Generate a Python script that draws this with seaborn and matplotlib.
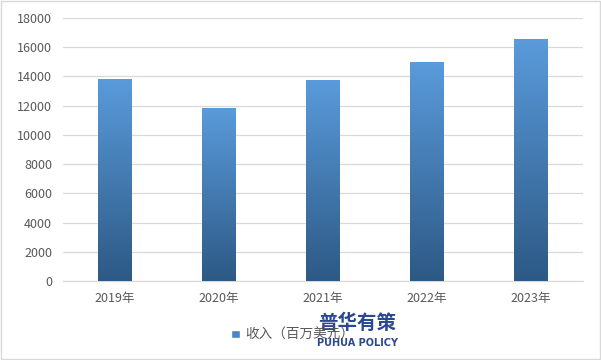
import matplotlib
matplotlib.use("Agg")
import matplotlib.pyplot as plt
import seaborn as sns
import numpy as np
import pandas as pd
from matplotlib.colors import LinearSegmentedColormap
from matplotlib.patches import Rectangle

years = ["2019年", "2020年", "2021年", "2022年", "2023年"]
revenue = [13850, 11850, 13780, 15000, 16580]
series_name = "收入（百万美元）"
yticks = [0, 2000, 4000, 6000, 8000, 10000, 12000, 14000, 16000, 18000]

sns.set_theme(style="white")
plt.rcParams["font.family"] = ["Noto Sans CJK SC", "DejaVu Sans"]

df = pd.DataFrame({"year": years, "value": revenue})

fig = plt.figure(figsize=(6.01, 3.6), dpi=100)
ax = fig.add_axes([0.105, 0.219, 0.865, 0.731])
sns.barplot(data=df, x="year", y="value", color="#4A86C5", width=0.32, ax=ax,
            saturation=1, zorder=3)

cmap = LinearSegmentedColormap.from_list("g", ["#2D5985", "#5A9BDB"])
grad = np.linspace(0, 1, 256).reshape(-1, 1)
for p in list(ax.patches):
    x0, y0 = p.get_x(), p.get_y()
    w, h = p.get_width(), p.get_height()
    im = ax.imshow(grad, extent=[x0, x0 + w, y0, y0 + h], origin="lower",
                   cmap=cmap, aspect="auto", zorder=3)
    im.set_clip_path(p)
    p.set_facecolor("none")
    p.set_edgecolor("none")

ax.set_xlim(-0.5, 4.5)
ax.set_ylim(0, 18000)
ax.set_yticks(yticks)
ax.set_yticklabels([str(v) for v in yticks])
ax.yaxis.grid(True, color="#D9D9D9", linewidth=0.9, zorder=0)
ax.set_axisbelow(True)
for s in ["top", "right", "left"]:
    ax.spines[s].set_visible(False)
ax.spines["bottom"].set_color("#D9D9D9")
ax.spines["bottom"].set_linewidth(0.9)
ax.tick_params(axis="both", length=0, labelsize=9, colors="#595959", pad=8)
ax.set_xlabel("")
ax.set_ylabel("")

handle = Rectangle((0, 0), 1, 1, facecolor="#4A86C5")
fig.legend([handle], [series_name], loc="center", bbox_to_anchor=(0.487, 0.07),
           frameon=False, fontsize=9.8, handlelength=0.6, handleheight=0.6,
           handletextpad=0.4, labelcolor="#595959")

fig.text(0.595, 0.103, "普华有策", fontsize=14, fontweight="bold", color="#1F3F8A",
         ha="center", va="center", alpha=0.95)
fig.text(0.595, 0.047, "PUHUA POLICY", fontsize=7, fontweight="bold", color="#1F3F8A",
         ha="center", va="center", alpha=0.95, family=["DejaVu Sans"])

border = Rectangle((0.002, 0.003), 0.996, 0.994, transform=fig.transFigure,
                   fill=False, edgecolor="#D9D9D9", linewidth=1)
fig.patches.append(border)

fig.savefig("out.png", dpi=100)
